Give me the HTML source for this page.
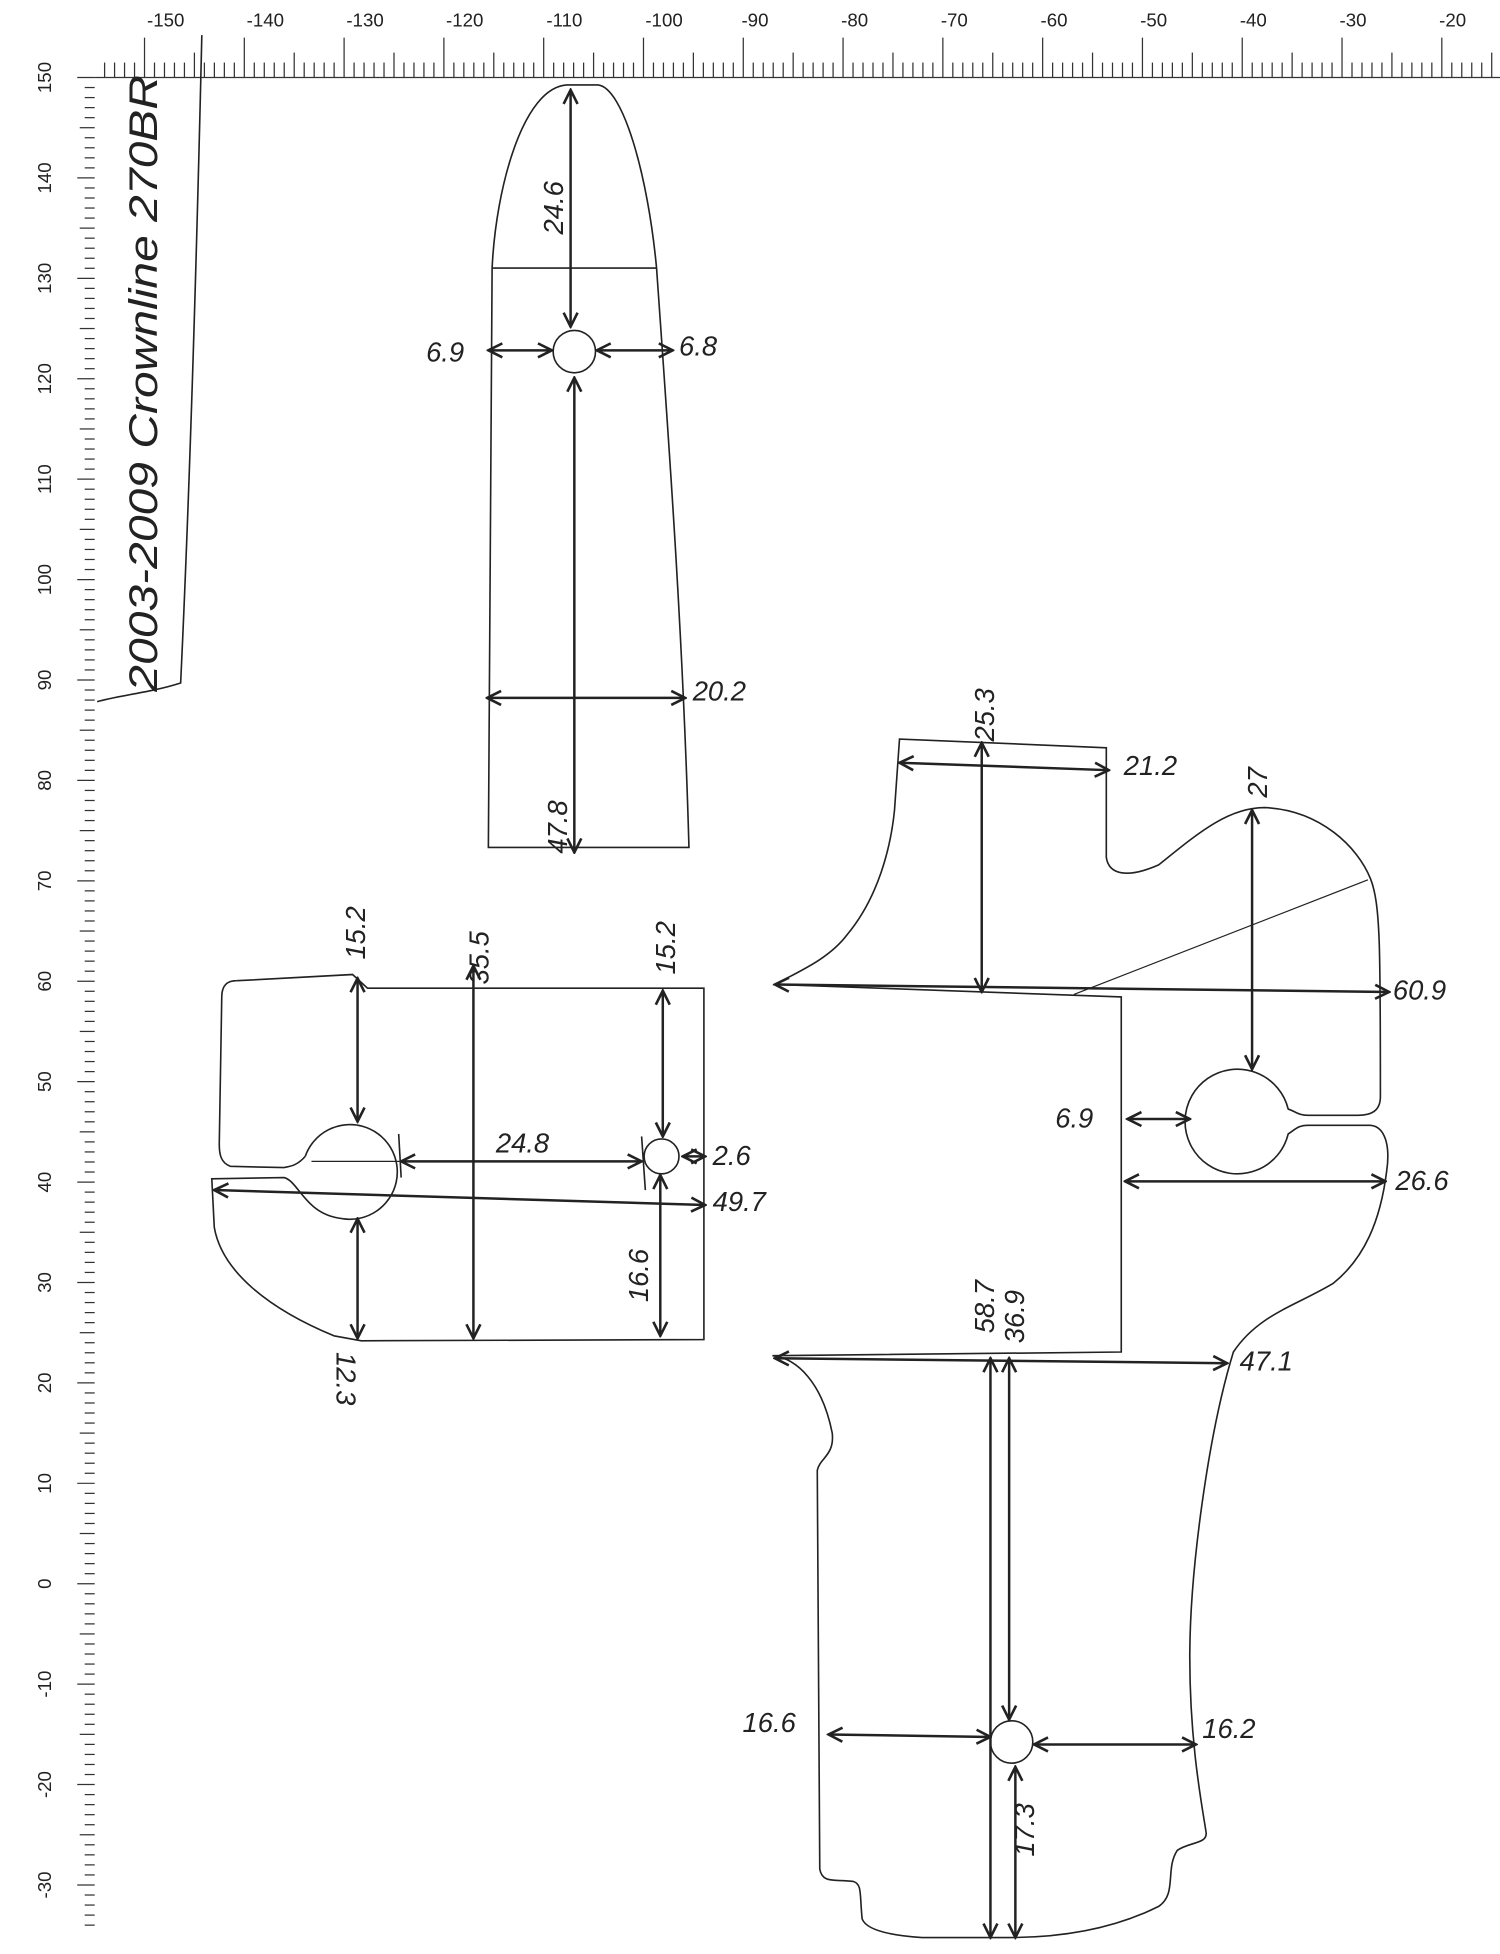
<!DOCTYPE html>
<html><head><meta charset="utf-8"><style>html,body{margin:0;padding:0;background:#fff}svg{display:block}</style></head><body>
<svg xmlns="http://www.w3.org/2000/svg" width="1500" height="1954" viewBox="0 0 1204 1568">
<defs><marker id="a" viewBox="0 0 10 10" refX="9" refY="5" markerWidth="7" markerHeight="7" orient="auto-start-reverse"><path d="M1,1 L9,5 L1,9" fill="none" stroke="#222" stroke-width="1.5"/></marker></defs>
<rect width="1204" height="1568" fill="#fff"/>
<g font-family="Liberation Sans, sans-serif" font-size="15" fill="#222" text-anchor="middle">
<text x="133" y="21">-150</text><text x="213" y="21">-140</text><text x="293" y="21">-130</text><text x="373" y="21">-120</text><text x="453" y="21">-110</text><text x="533" y="21">-100</text><text x="606" y="21">-90</text><text x="686" y="21">-80</text><text x="766" y="21">-70</text><text x="846" y="21">-60</text><text x="926" y="21">-50</text><text x="1006" y="21">-40</text><text x="1086" y="21">-30</text><text x="1166" y="21">-20</text>
</g>
<g id="rt" stroke="#333" stroke-width="1">
<line x1="76" y1="62" x2="1204" y2="62"/>
</g>
<g id="lr" stroke="#333" stroke-width="1"></g>
<g id="ll" font-family="Liberation Sans, sans-serif" font-size="15" fill="#222" text-anchor="middle"></g>
<script>
(function(){var ns="http://www.w3.org/2000/svg";var rt=document.getElementById('rt'),lr=document.getElementById('lr'),ll=document.getElementById('ll');
function L(g,x1,y1,x2,y2){var l=document.createElementNS(ns,'line');l.setAttribute('x1',x1);l.setAttribute('y1',y1);l.setAttribute('x2',x2);l.setAttribute('y2',y2);g.appendChild(l);}
for(var u=-154;u<=-15;u++){var x=116+(u+150)*8.01;if(x<78)continue;var h=(u%10==0)?32:(u%5==0?20:12);L(rt,x,62-h,x,62);}
for(var v=150;v>=-34;v--){var y=62+(150-v)*8.06;if(y>1566)break;var w=(v%10==0)?14:(v%5==0?12:8);L(lr,76-w,y,76,y);
if(v%10==0){var t=document.createElementNS(ns,'text');t.setAttribute('transform','translate(36,'+y+') rotate(-90)');t.setAttribute('y','5');t.textContent=v;ll.appendChild(t);}}
})();
</script>
<g fill="none" stroke="#222" stroke-width="1.3">
<path d="M162,28 C158,200 152,400 145,548 C120,556 95,558 78,563"/>
<path d="M395,215 C398,150 420,70 455,68 L480,68 C500,70 520,140 527,215 C535,330 548,500 553,680 L392,680 L395,215 Z"/>
<line x1="395" y1="215" x2="527" y2="215"/>
<circle cx="461" cy="282" r="17"/>
<path d="M190,787 L283,782 L295,793 L565,793 L565,1075 L290,1076 L268,1072 C215,1050 178,1020 172,985 L170,946 L228,945 C240,948 245,975 275,978"/>
<path d="M275,978 A38,38 0 1 0 245,928"/>
<path d="M245,928 C238,936 232,936 228,937 L185,936 C177,933 176,926 176,918 L178,800 C178,790 183,787 190,787"/>
<circle cx="531" cy="928" r="14"/>
<path d="M622,790 C640,780 665,770 680,750 C705,720 715,680 718,650 L722,593 L888,600 L888,688 C890,702 905,705 930,694 C960,670 985,648 1015,648 C1060,650 1090,680 1100,705 C1108,725 1108,760 1108,880 C1108,892 1100,895 1090,895 L1050,895 C1042,895 1040,892 1034,890 A42,42 0 1 0 1034,910 C1040,906 1042,903 1050,903 L1100,903 C1112,904 1116,920 1113,940 C1108,980 1095,1010 1070,1030 C1040,1048 1010,1055 990,1085 C970,1150 955,1260 955,1330 C955,1400 965,1450 968,1470 C970,1480 955,1478 945,1485 C935,1500 945,1520 930,1530 C900,1545 860,1555 810,1555 L740,1555 C710,1553 695,1548 692,1540 C690,1520 692,1512 685,1510 C670,1508 660,1512 658,1500 L656,1180 C658,1170 670,1168 668,1150 C660,1110 640,1090 620,1088 L900,1085 L900,800 Z"/>
<line x1="862" y1="798" x2="1098" y2="706" stroke-width="1"/>
<circle cx="812" cy="1398" r="17"/>
</g>
<g fill="none" stroke="#222" stroke-width="2" marker-start="url(#a)" marker-end="url(#a)">
<line x1="458" y1="72" x2="458" y2="262"/>
<line x1="392" y1="281" x2="443" y2="281"/>
<line x1="479" y1="281" x2="540" y2="281"/>
<line x1="461" y1="303" x2="461" y2="684"/>
<line x1="391" y1="560" x2="550" y2="560"/>
<line x1="287" y1="785" x2="287" y2="900"/>
<line x1="287" y1="978" x2="287" y2="1074"/>
<line x1="380" y1="775" x2="380" y2="1074"/>
<line x1="532" y1="795" x2="532" y2="912"/>
<line x1="530" y1="943" x2="530" y2="1072"/>
<line x1="322" y1="932" x2="515" y2="932"/>
<line x1="172" y1="955" x2="566" y2="967"/>
<line x1="548" y1="928" x2="566" y2="928"/>
<line x1="788" y1="596" x2="788" y2="796"/>
<line x1="722" y1="612" x2="890" y2="618"/>
<line x1="1005" y1="650" x2="1005" y2="858"/>
<line x1="622" y1="790" x2="1115" y2="796"/>
<line x1="905" y1="898" x2="955" y2="898"/>
<line x1="903" y1="948" x2="1112" y2="948"/>
<line x1="795" y1="1090" x2="795" y2="1555"/>
<line x1="810" y1="1090" x2="810" y2="1380"/>
<line x1="622" y1="1090" x2="985" y2="1094"/>
<line x1="665" y1="1392" x2="795" y2="1394"/>
<line x1="830" y1="1400" x2="960" y2="1400"/>
<line x1="815" y1="1418" x2="815" y2="1555"/>
</g>
<line x1="250" y1="932" x2="322" y2="932" stroke="#222" stroke-width="1"/>
<line x1="320" y1="910" x2="322" y2="945" stroke="#222" stroke-width="1.3"/>
<line x1="515" y1="912" x2="518" y2="955" stroke="#222" stroke-width="1.3"/>
<g font-family="Liberation Sans, sans-serif" font-size="22" fill="#222" font-style="italic">
<text transform="translate(126,555) rotate(-90)" font-size="32" textLength="495" lengthAdjust="spacingAndGlyphs">2003-2009 Crownline 270BR</text>
<text transform="translate(452,188) rotate(-90)">24.6</text>
<text x="342" y="290">6.9</text>
<text x="545" y="285">6.8</text>
<text x="556" y="562">20.2</text>
<text transform="translate(455,685) rotate(-90)">47.8</text>
<text transform="translate(293,770) rotate(-90)">15.2</text>
<text transform="translate(392,790) rotate(-90)">35.5</text>
<text transform="translate(542,782) rotate(-90)">15.2</text>
<text x="398" y="925">24.8</text>
<text x="572" y="935">2.6</text>
<text x="572" y="972">49.7</text>
<text transform="translate(520,1045) rotate(-90)">16.6</text>
<text transform="translate(270,1085) rotate(90)">12.3</text>
<text transform="translate(798,595) rotate(-90)">25.3</text>
<text x="902" y="622">21.2</text>
<text transform="translate(1017,640) rotate(-90)">27</text>
<text x="1118" y="802">60.9</text>
<text x="847" y="905">6.9</text>
<text x="1120" y="955">26.6</text>
<text transform="translate(798,1070) rotate(-90)">58.7</text>
<text transform="translate(822,1078) rotate(-90)">36.9</text>
<text x="995" y="1100">47.1</text>
<text x="596" y="1390">16.6</text>
<text x="965" y="1395">16.2</text>
<text transform="translate(830,1490) rotate(-90)">17.3</text>
</g>
</svg>
</body></html>
